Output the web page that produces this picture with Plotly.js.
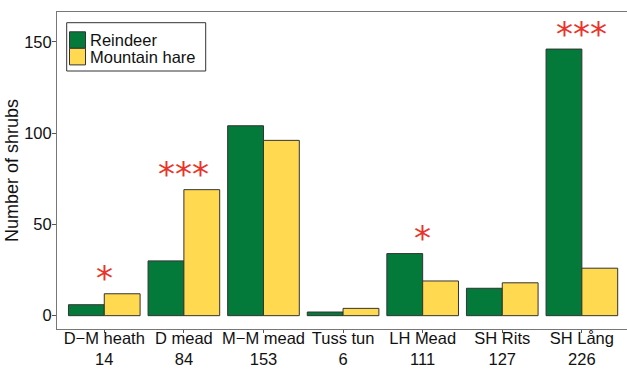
<!DOCTYPE html>
<html>
<head>
<meta charset="utf-8">
<script src="https://cdn.plot.ly/plotly-3.0.1.min.js"></script>
<style>html,body{margin:0;padding:0;background:#fff;}#chart{width:627px;height:370px;}</style>
</head>
<body>
<div id="chart"></div>
<script>
// ---- data ----
const categories = ["D\u2212M heath", "D mead", "M\u2212M mead", "Tuss tun", "LH Mead", "SH Rits", "SH L\u00e5ng"];
const sampleSizes = [14, 84, 153, 6, 111, 127, 226];
const reindeer = [6, 30, 104, 2, 34, 15, 146];
const mountainHare = [12, 69, 96, 4, 19, 18, 26];
const significance = ["*", "***", "", "", "*", "", "***"];
const seriesNames = ["Reindeer", "Mountain hare"];
const yTicks = [0, 50, 100, 150];

// ---- style ----
const FONT = "Liberation Sans, Arial, Helvetica, sans-serif";
const STAR_FONT = "DejaVu Sans, sans-serif";
const GREEN = "#047a3a";
const YELLOW = "#ffd94f";
const OUTLINE = "#333333";
const RED = "#e8342a";

const W = 627, H = 370;
const M = {l: 57, r: 0, t: 12, b: 41};
const plotW = W - M.l - M.r, plotH = H - M.t - M.b;
const px2x = p => (p - M.l) / plotW;
const px2y = p => (H - M.b - p) / plotH;

const idx = categories.map((_, i) => i);
const tickText = categories.map((c, i) => c + "<br>" + sampleSizes[i]);

const traces = [
  {type: "bar", x: idx, y: reindeer, name: seriesNames[0],
   marker: {color: GREEN, line: {color: OUTLINE, width: 1}}},
  {type: "bar", x: idx, y: mountainHare, name: seriesNames[1],
   marker: {color: YELLOW, line: {color: OUTLINE, width: 1}}}
];

const annotations = [];
significance.forEach((s, i) => {
  if (!s) return;
  annotations.push({
    x: i, y: Math.max(reindeer[i], mountainHare[i]) + 8.5,
    xref: "x", yref: "y", text: s, showarrow: false,
    xanchor: "center", yanchor: "middle",
    font: {family: STAR_FONT, size: 34, color: RED}
  });
});

// manual legend (ggplot-style)
const shapes = [
  {type: "rect", xref: "paper", yref: "paper",
   x0: px2x(66.7), x1: px2x(205.7), y0: px2y(71), y1: px2y(22.7),
   line: {color: OUTLINE, width: 1}, fillcolor: "#ffffff"},
  {type: "rect", xref: "paper", yref: "paper",
   x0: px2x(69.5), x1: px2x(85.5), y0: px2y(48.3), y1: px2y(31.8),
   line: {color: OUTLINE, width: 1}, fillcolor: GREEN},
  {type: "rect", xref: "paper", yref: "paper",
   x0: px2x(69.5), x1: px2x(85.5), y0: px2y(64.9), y1: px2y(48.3),
   line: {color: OUTLINE, width: 1}, fillcolor: YELLOW}
];
[[seriesNames[0], 40.0], [seriesNames[1], 56.6]].forEach(([t, yc]) => {
  annotations.push({
    xref: "paper", yref: "paper", x: px2x(87.5), y: px2y(yc),
    xanchor: "left", yanchor: "middle", showarrow: false, text: t,
    font: {family: FONT, size: 16.5, color: "#111111"}
  });
});

const layout = {
  width: W, height: H,
  margin: M,
  paper_bgcolor: "#ffffff", plot_bgcolor: "#ffffff",
  font: {family: FONT, color: "#111111"},
  showlegend: false,
  barmode: "group", bargap: 0.1, bargroupgap: 0,
  xaxis: {
    range: [-0.594, 6.567], tickmode: "array", tickvals: idx, ticktext: tickText,
    tickfont: {family: FONT, size: 16.5, color: "#111111"},
    ticks: "outside", ticklen: 3, tickcolor: "#555555", ticklabelstandoff: -9,
    showline: true, mirror: true, linecolor: "#777777", linewidth: 1,
    showgrid: false, zeroline: false, fixedrange: true
  },
  yaxis: {
    range: [-7.3, 166.3], tickmode: "array", tickvals: yTicks,
    tickfont: {family: FONT, size: 16.5, color: "#111111"},
    ticks: "outside", ticklen: 4, tickcolor: "#555555", ticklabelstandoff: -3,
    showline: true, mirror: false, linecolor: "#777777", linewidth: 1,
    showgrid: false, zeroline: false, fixedrange: true,
    title: {text: "Number of shrubs", font: {family: FONT, size: 18, color: "#111111"}, standoff: 0}
  },
  shapes: shapes,
  annotations: annotations
};

Plotly.newPlot("chart", traces, layout, {displayModeBar: false, staticPlot: true});
</script>
</body>
</html>
